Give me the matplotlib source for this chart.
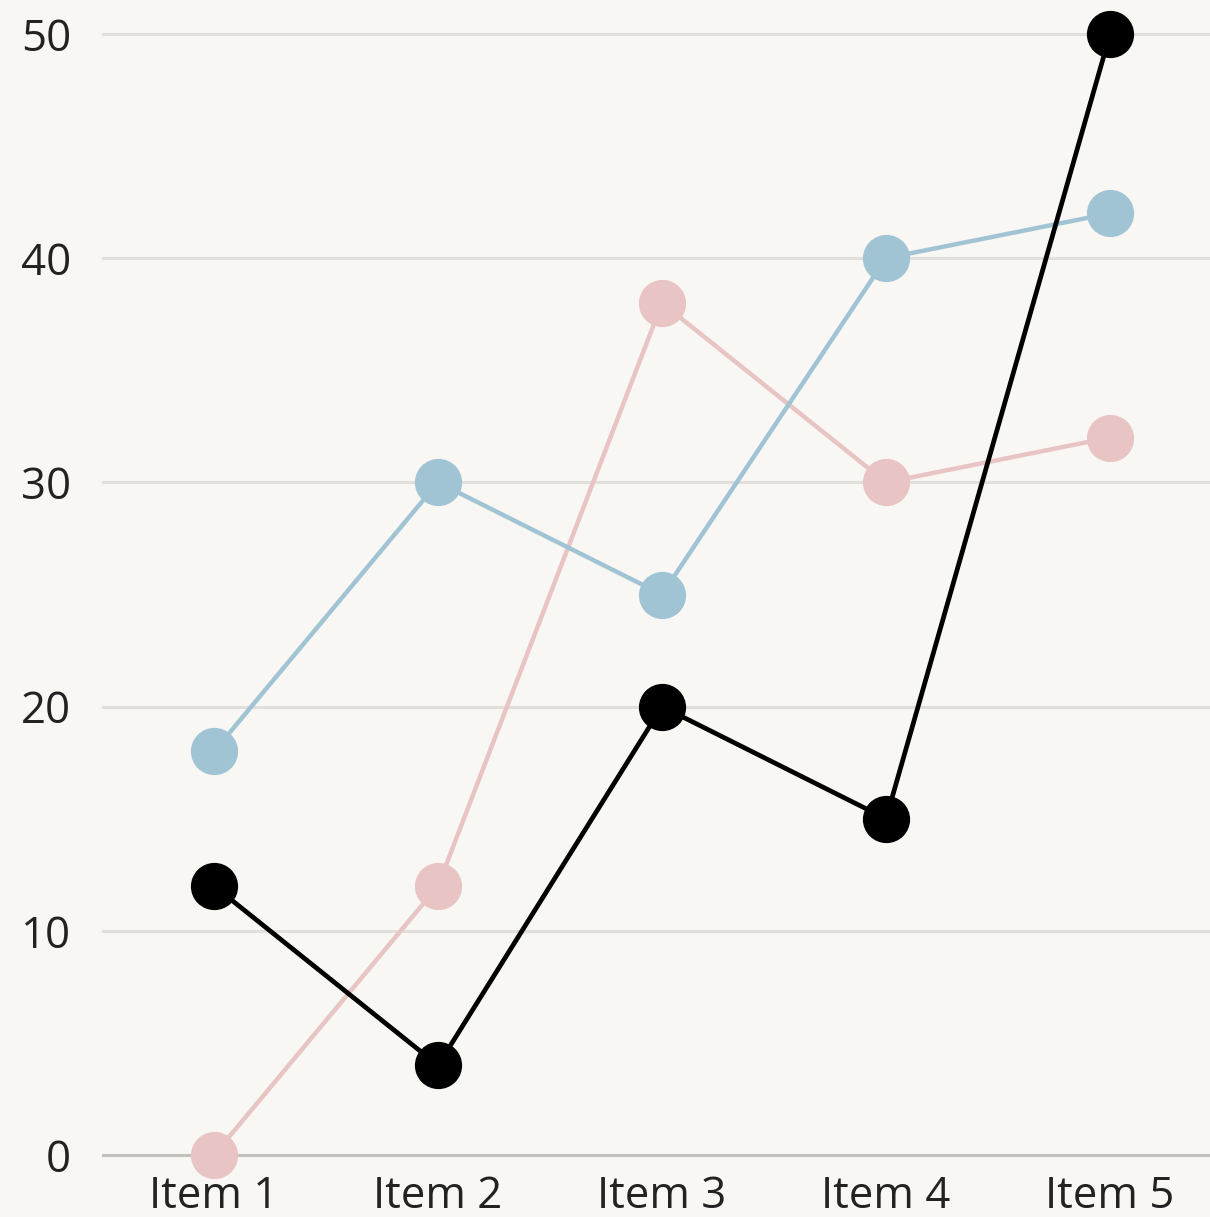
import matplotlib
matplotlib.use("Agg")
import matplotlib.pyplot as plt

W, H = 1210, 1217
BG = "#f9f7f4"

items = ["Item 1", "Item 2", "Item 3", "Item 4", "Item 5"]
pink_vals = [0, 12, 38, 30, 32]
blue_vals = [18, 30, 25, 40, 42]
black_vals = [12, 4, 20, 15, 50]
yticks = [0, 10, 20, 30, 40, 50]

plt.rcParams["font.family"] = ["Open Sans", "DejaVu Sans"]

fig = plt.figure(figsize=(W / 100, H / 100), dpi=100, facecolor=BG)
ax = fig.add_axes([103 / W, (H - 1155) / H, 1 - 103 / W, (1155 - 34) / H])
ax.set_facecolor(BG)

xs = list(range(len(items)))
series = [(pink_vals, "#e8c4c4", 3.2), (blue_vals, "#a0c4d3", 3.2),
          (black_vals, "#000000", 3.4)]
for z, (vals, col, lw) in enumerate(series):
    ax.plot(xs, vals, "-o", color=col, lw=lw, markersize=34,
            markeredgewidth=0, clip_on=False, zorder=3 + z)

ax.set_xlim(-0.4955, 4.446)
ax.set_ylim(0, 50)
ax.set_yticks(yticks)
ax.set_xticks(xs)
ax.set_xticklabels(items)
for y in yticks:
    ax.axhline(y, color="#c4c1bc" if y == 0 else "#e2dfda",
               lw=2.2, zorder=1, clip_on=False)
for s in ax.spines.values():
    s.set_visible(False)
ax.tick_params(axis="both", length=0, labelsize=31.5, colors="#222222")
ax.tick_params(axis="y", pad=23)
ax.tick_params(axis="x", pad=14)

fig.savefig("out.png", dpi=100, facecolor=BG)
